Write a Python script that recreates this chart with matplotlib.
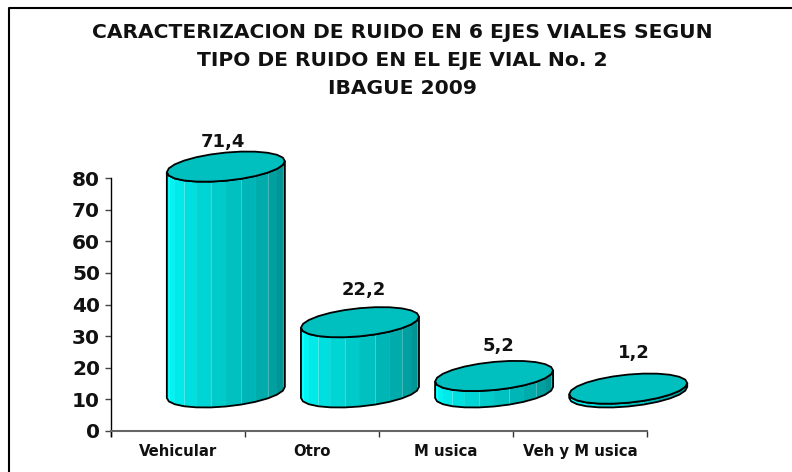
import numpy as np
import matplotlib
matplotlib.use('Agg')
import matplotlib.pyplot as plt
from matplotlib.patches import Polygon

# datos del grafico
categorias = ['Vehicular', 'Otro', 'M usica', 'Veh y M usica']
valores = [71.4, 22.2, 5.2, 1.2]
etiquetas = ['71,4', '22,2', '5,2', '1,2']
ticks_y = [0, 10, 20, 30, 40, 50, 60, 70, 80]
titulo = ['CARACTERIZACION DE RUIDO EN 6 EJES VIALES SEGUN',
          'TIPO DE RUIDO EN EL EJE VIAL No. 2',
          'IBAGUE 2009']

W, H = 792, 472
plt.rcParams['font.family'] = ['DejaVu Sans']
fig = plt.figure(figsize=(W / 100, H / 100), dpi=100)

# marco exterior: solo izquierda y arriba
fig.add_artist(plt.Line2D([9 / W, 9 / W, 1], [0, 1 - 7.5 / H, 1 - 7.5 / H],
                          color='black', lw=1.5))

# ejes en pixeles de la imagen
ax = fig.add_axes([110.5 / W, 1 - 431 / H, (647 - 110.5) / W, (431 - 178) / H])
ax.set_xlim(0, 4)
ax.set_ylim(0, 80)
ax.set_xticks(range(5))
ax.set_xticklabels([])
ax.set_yticks(ticks_y)
ax.set_yticklabels(ticks_y, fontsize=14.5, fontweight='bold', color='#111111')
ax.tick_params(axis='y', length=4, width=1, pad=3.5, color='#444444')
ax.tick_params(axis='x', length=4, width=1, color='#333333')
ax.spines['top'].set_visible(False)
ax.spines['right'].set_visible(False)
ax.spines['left'].set_linewidth(1)
ax.spines['left'].set_bounds(-1.6, 80)
ax.spines['bottom'].set_linewidth(1.5)
ax.spines['bottom'].set_color('#666666')
ax.patch.set_alpha(0)

for i, c in enumerate(categorias):
    ax.text(i + 0.5, -6.5, c, ha='center', va='center', fontsize=10.7, fontweight='bold', color='#111111')

# cilindros en unidades de datos
desp = 0.36    # corrimiento del cilindro respecto a la categoria
a = 0.44       # semiancho
b = 4.45       # semialto de la elipse
s = 1.75       # inclinacion de la elipse
base = 12.2    # centro de la base
oscuro = np.array([0, 139, 139]) / 255
claro = np.array([0, 255, 255]) / 255
tapa = '#00bfbf'
# ajuste de cada etiqueta respecto a la tapa (ancho de categoria, unidades y)
ajuste_x = [-0.02, 0.03, 0.035, 0.04]
ajuste_y = [7.7, 10.1, 9.5, 11.4]

t = np.linspace(0, 2 * np.pi, 25)
tf = np.linspace(np.pi, 2 * np.pi, 13)
for i, v in enumerate(valores):
    cx = i + 0.5 + desp
    ex = cx + a * np.cos(t)
    ey = b * np.sin(t) + s * np.cos(t)
    # mitad inferior de la elipse, de izquierda a derecha
    fx = cx + a * np.cos(tf)
    fy = b * np.sin(tf) + s * np.cos(tf)
    n = len(fx) - 1
    for k in range(n):
        f = k / (n - 1)
        col = claro * (1 - f) + oscuro * f
        cuad = [(fx[k], base + fy[k]), (fx[k + 1], base + fy[k + 1]),
                (fx[k + 1], base + v + fy[k + 1]), (fx[k], base + v + fy[k])]
        ax.add_patch(Polygon(cuad, closed=True, fc=col, ec=col, lw=0.3, clip_on=False, zorder=3))
        # filetes claros entre facetas
        if k % 2 == 1:
            ax.plot([fx[k], fx[k]], [base + fy[k], base + v + fy[k]], color='white', alpha=0.3,
                    lw=0.6, clip_on=False, zorder=3.5)
    # contorno del cuerpo
    cx_l = np.r_[fx, fx[::-1]]
    cy_l = np.r_[base + fy, base + v + fy[::-1]]
    ax.add_patch(Polygon(np.c_[cx_l, cy_l], closed=True, fill=False, ec='black', lw=1.3,
                         clip_on=False, zorder=4))
    # tapa
    ax.add_patch(Polygon(np.c_[ex, base + v + ey], closed=True, fc=tapa, ec='black', lw=1.3,
                         clip_on=False, zorder=5))
    ax.text(cx + ajuste_x[i], base + v + ajuste_y[i], etiquetas[i], ha='center', va='center',
            fontsize=13, fontweight='bold', color='#111111', clip_on=False, zorder=6)

for k, linea in enumerate(titulo):
    fig.text(402.5 / W, 1 - (33 + k * 27.5) / H, linea, ha='center', va='center',
             fontsize=14.6, fontweight='bold', color='#111111')

fig.savefig('out.png', dpi=100)
